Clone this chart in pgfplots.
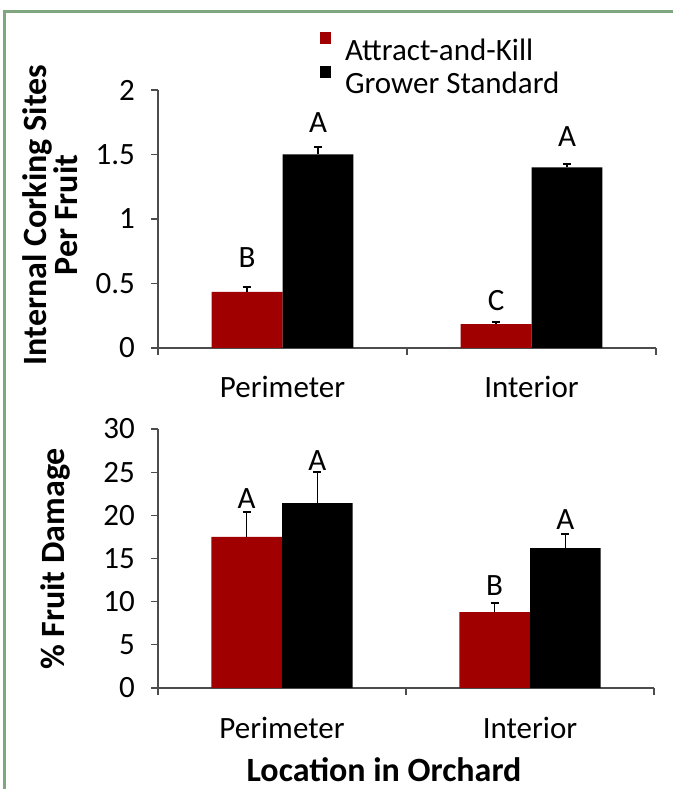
\documentclass[border=0pt]{standalone}
\usepackage{fontspec}
\setmainfont{Carlito}
\usepackage{pgfplots}
\usepackage{pgfplotstable}
\pgfplotsset{compat=1.18}

\definecolor{akred}{RGB}{160,0,0}
\definecolor{framegreen}{RGB}{128,166,128}
\newcommand{\lab}{\fontsize{31}{36}\selectfont}
\newcommand{\tit}{\fontsize{34}{31}\selectfont\bfseries}

% mean and SE per location
\pgfplotstableread{
x ak ake gs gse
1 0.435 0.040 1.50 0.055
2 0.185 0.015 1.40 0.030
}\corking
\pgfplotstableread{
x ak ake gs gse
1 17.5 2.9 21.4 3.6
2 8.8 1.1 16.2 1.65
}\damage

\pgfplotsset{panel/.style={
  scale only axis, anchor=south west,
  axis lines*=left, axis line style={black!70,line width=1.3pt},
  xmin=0.5, xmax=2.5,
  xtick={0.5,1.5,2.5}, xticklabels={},
  extra x ticks={1,2}, extra x tick labels={Perimeter,Interior},
  extra x tick style={major tick length=0pt,
    xticklabel style={anchor=base,inner sep=0pt,yshift=-50pt}},
  tick align=outside, major tick length=7pt,
  tick style={black!70,line width=1.3pt},
  ticklabel style={font=\lab},
  yticklabel style={inner sep=0pt,xshift=-16pt},
  /pgf/number format/assume math mode=true,
  ybar, bar width=0.285,
  error bars/y dir=plus, error bars/y explicit,
  error bars/error mark=|,
  error bars/error bar style={black,line width=1.3pt},
  error bars/error mark options={black,line width=2pt,mark size=4pt},
  clip=false,
}}

\begin{document}
\begin{tikzpicture}[x=1pt,y=1pt]
\useasboundingbox (0,0) rectangle (672,789);
\draw[framegreen,line width=3pt] (4,-20) rectangle (700,777);

\begin{axis}[panel, at={(158pt,441pt)}, width=498pt, height=258pt,
  ymin=0, ymax=2, ytick={0,0.5,1,1.5,2},
  legend style={at={(0.325,1.225)}, anchor=north west, draw=none, fill=none,
    font=\lab, row sep=2pt, column sep=12pt, inner sep=0pt},
  legend cell align=left,
  legend image code/.code={\fill[#1] (0pt,6pt) rectangle (11pt,18pt);}]
\addplot[fill=akred, draw=none, bar shift=-0.1425]
  table[x=x, y=ak, y error=ake] {\corking};
\addlegendentry{Attract-and-Kill}
\addplot[fill=black, draw=none, bar shift=0.1425]
  table[x=x, y=gs, y error=gse] {\corking};
\addlegendentry{Grower Standard}
\node[font=\lab] at (axis cs:0.8575,0.70) {B};
\node[font=\lab] at (axis cs:1.1425,1.75) {A};
\node[font=\lab] at (axis cs:1.8575,0.37) {C};
\node[font=\lab] at (axis cs:2.1425,1.64) {A};
\end{axis}

\begin{axis}[panel, at={(158pt,101pt)}, width=496pt, height=259pt,
  ymin=0, ymax=30, ytick={0,5,...,30}]
\addplot[fill=akred, draw=none, bar shift=-0.1425]
  table[x=x, y=ak, y error=ake] {\damage};
\addplot[fill=black, draw=none, bar shift=0.1425]
  table[x=x, y=gs, y error=gse] {\damage};
\node[font=\lab] at (axis cs:0.8575,22.0) {A};
\node[font=\lab] at (axis cs:1.1425,26.4) {A};
\node[font=\lab] at (axis cs:1.8575,11.9) {B};
\node[font=\lab] at (axis cs:2.1425,19.5) {A};
\end{axis}

\node[rotate=90, font=\tit, align=center] at (50,574) {Internal Corking Sites\\Per Fruit};
\node[rotate=90, font=\tit] at (55,230) {\% Fruit Damage};
\node[font=\tit, anchor=base] at (384,7) {Location in Orchard};
\end{tikzpicture}
\end{document}
